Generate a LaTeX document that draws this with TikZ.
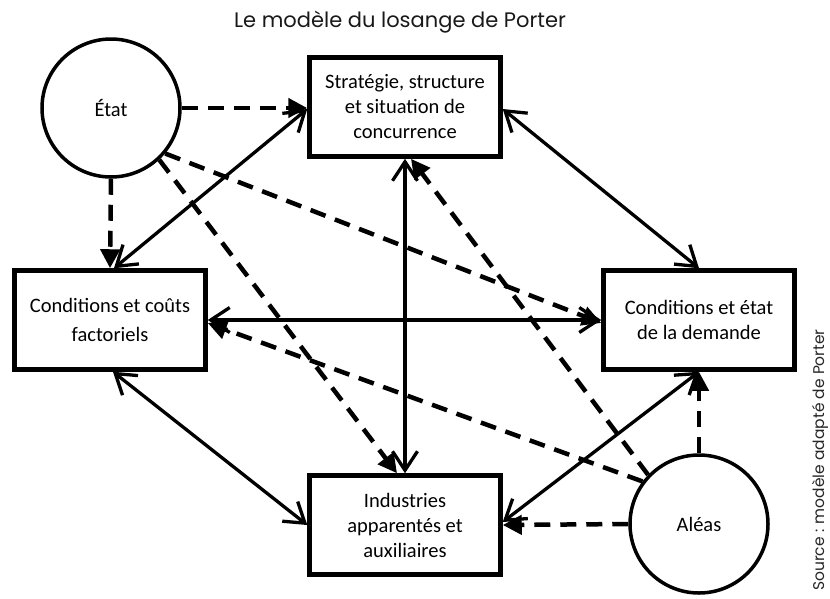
\documentclass[tikz,border=0pt]{standalone}
\usepackage{fontspec}
\setmainfont{Carlito}
\newfontfamily\titrefont{Poppins}
\usepackage{tikz}
\usetikzlibrary{arrows.meta}

\begin{document}
\begin{tikzpicture}[x=1pt, y=-1pt,
		boite/.style={draw, line width=4.5pt, minimum width=191pt, minimum height=99pt, align=center, font=\fontsize{20.5}{25}\selectfont},
		rond/.style={draw, circle, line width=3.5pt, minimum size=138pt, font=\fontsize{20.5}{25}\selectfont},
		lien/.style={line width=3.3pt, {Straight Barb[length=19pt,width=25pt]}-{Straight Barb[length=19pt,width=25pt]}},
		influence/.style={line width=4.5pt, dash pattern=on 16pt off 10pt, -{Triangle[length=19pt,width=19pt]}}]
					
					\useasboundingbox (0,0) rectangle (830,598);
					
					\node[font=\titrefont\fontsize{21}{24}\selectfont, text=black!90] (titre) at (400,22) {Le modèle du losange de Porter};
					\node[font=\titrefont\fontsize{15.5}{18}\selectfont, text=black!85, rotate=90] (source) at (820,460) {Source : modèle adapté de Porter};
					
					\node[rond] (etat) at (111,108) {État};
					\node[rond] (aleas) at (699,524) {Aléas};
					
					\node[boite] (strat) at (405,107) {Stratégie, structure\\et situation de\\concurrence};
					\node[boite] (cout) at (110,320) {Conditions et coûts\\[4pt]factoriels};
					\node[boite] (demande) at (699,320) {Conditions et état\\de la demande};
					\node[boite] (ind) at (405,525) {Industries\\apparentés et\\auxiliaires};
					
					\draw[lien] ([xshift=4pt]cout.north) -- ([yshift=-2pt]strat.west);
					\draw[lien] ([yshift=-2pt]strat.east) -- (demande.north);
					\draw[lien] (cout.east) -- (demande.west);
					\draw[lien] (strat.south) -- (ind.north);
					\draw[lien] ([xshift=3pt]cout.south) -- (ind.west);
					\draw[lien] (demande.south) -- ([yshift=3pt]ind.east);
					
					\draw[influence] (etat.east) -- ([yshift=-1pt]strat.west);
					\draw[influence] (etat.south) -- (cout.north);
					\draw[influence] (etat.-40) -- ([yshift=-3pt]demande.west);
					\draw[influence] (etat.-47) -- ([xshift=-8pt]ind.north);
					
					\draw[influence] (aleas.north) -- (demande.south);
					\draw[influence] (aleas.west) -- (ind.east);
					\draw[influence] (aleas.136) -- ([xshift=6pt]strat.south);
					\draw[influence] (aleas.143) -- ([yshift=-3pt]cout.east);
				\end{tikzpicture}
\end{document}
